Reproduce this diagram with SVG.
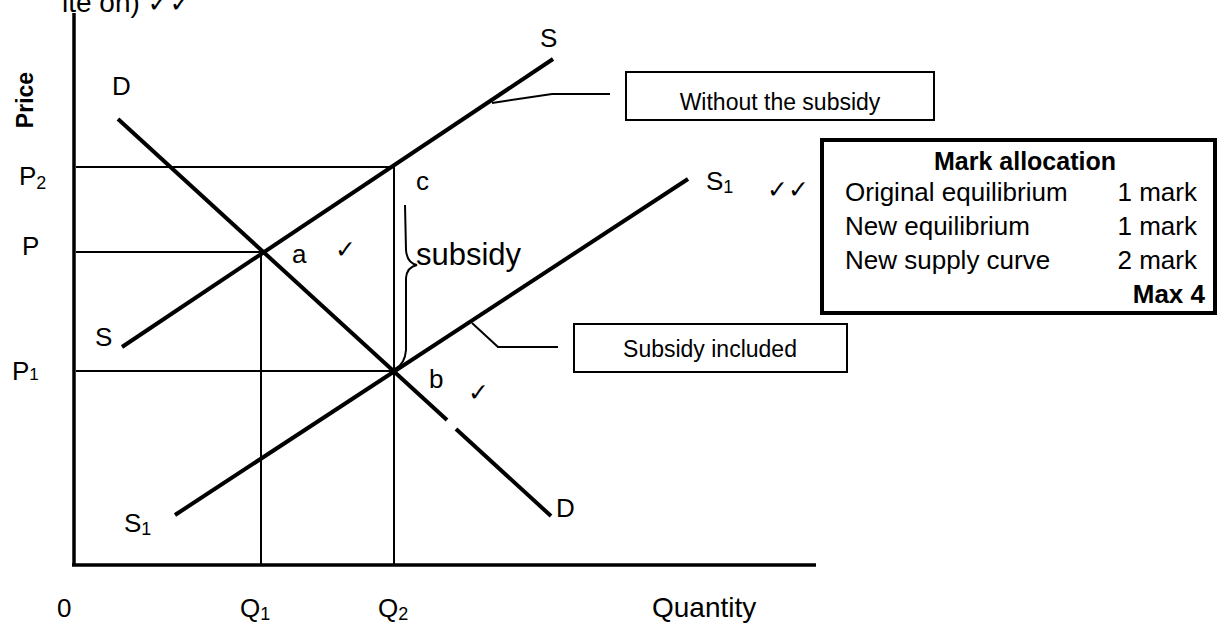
<svg xmlns="http://www.w3.org/2000/svg" width="1218" height="623" viewBox="0 0 1218 623">
<style>
text{font-family:"Liberation Sans",Arial,sans-serif;fill:#000}
.lbl{font-size:26px}
.sub{font-size:18px}
.tick{font-family:"DejaVu Sans",sans-serif;font-size:25px}
.curve{stroke:#000;stroke-width:4;fill:none;stroke-linecap:butt}
.axis{stroke:#000;stroke-width:3.5;fill:none}
.thin{stroke:#000;stroke-width:2;fill:none}
.box{stroke:#000;stroke-width:2;fill:#fff}
</style>
<rect width="1218" height="623" fill="#fff"/>
<text x="62" y="12" style="font-size:28px">ite on) <tspan class="tick" style="font-size:26px">✓✓</tspan></text>
<g id="axes">
<line class="axis" x1="74" y1="13" x2="74" y2="566"/>
<line class="axis" x1="72" y1="565" x2="816" y2="565"/>
<text transform="translate(33,100) rotate(-90)" text-anchor="middle" style="font-size:23px;font-weight:bold">Price</text>
</g>
<g id="guides">
<line class="thin" x1="76" y1="167" x2="394" y2="167"/>
<line class="thin" x1="76" y1="252" x2="262" y2="252"/>
<line class="thin" x1="76" y1="371" x2="394" y2="371"/>
<line class="thin" x1="261" y1="252" x2="261" y2="565"/>
<line class="thin" x1="394" y1="167" x2="394" y2="565"/>
</g>
<g id="curve-D">
<line class="curve" x1="118" y1="119" x2="447" y2="420"/>
<line class="curve" x1="456" y1="429" x2="551" y2="516"/>
<text class="lbl" x="112" y="95">D</text>
<text class="lbl" x="556" y="517">D</text>
</g>
<g id="curve-S">
<line class="curve" x1="122" y1="347" x2="553" y2="59"/>
<text class="lbl" x="540" y="47">S</text>
<text class="lbl" x="95" y="346">S</text>
</g>
<g id="curve-S1">
<line class="curve" x1="175" y1="515" x2="688" y2="179"/>
<text class="lbl" x="706" y="190">S<tspan class="sub" dy="3">1</tspan></text>
<text class="lbl" x="124" y="532">S<tspan class="sub" dy="3">1</tspan></text>
<text class="tick" x="767" y="198">✓✓</text>
</g>
<g id="price-labels">
<text class="lbl" x="19" y="185">P<tspan class="sub" dy="4">2</tspan></text>
<text class="lbl" x="22" y="255">P</text>
<text class="lbl" x="12" y="380">P<tspan style="font-size:17px">1</tspan></text>
</g>
<g id="qty-labels">
<text class="lbl" x="57" y="617">0</text>
<text class="lbl" x="240" y="617">Q<tspan class="sub" dy="3">1</tspan></text>
<text class="lbl" x="378" y="617">Q<tspan class="sub" dy="3">2</tspan></text>
<text x="652" y="617" style="font-size:28px">Quantity</text>
</g>
<g id="points">
<text class="lbl" x="292" y="263">a</text>
<text class="tick" x="335" y="258">✓</text>
<text class="lbl" x="429" y="388">b</text>
<text class="tick" x="468" y="401">✓</text>
<text class="lbl" x="416" y="190">c</text>
</g>
<g id="subsidy">
<path class="thin" d="M405 205 L406 250 Q407 263 417 265 Q407 267 406 278 L406 350 Q405 364 395 369"/>
<text x="416" y="265" style="font-size:31px">subsidy</text>
</g>
<g id="connectors">
<polyline class="thin" points="492,103 552,94 610,94"/>
<polyline class="thin" points="472,323 498,347 558,347"/>
</g>
<g id="box-without">
<rect class="box" x="626" y="72" width="308" height="48"/>
<text x="780" y="110" text-anchor="middle" style="font-size:23px">Without the subsidy</text>
</g>
<g id="box-included">
<rect class="box" x="574" y="324" width="273" height="48"/>
<text x="710" y="357" text-anchor="middle" style="font-size:23px">Subsidy included</text>
</g>
<g id="mark-box">
<rect x="822" y="140" width="393" height="173" fill="#fff" stroke="#000" stroke-width="4"/>
<text x="1025" y="170" text-anchor="middle" style="font-size:25px;font-weight:bold">Mark allocation</text>
<text x="845" y="201" style="font-size:26px">Original equilibrium</text>
<text x="1197" y="201" text-anchor="end" style="font-size:26px">1 mark</text>
<text x="845" y="235" style="font-size:26px">New equilibrium</text>
<text x="1197" y="235" text-anchor="end" style="font-size:26px">1 mark</text>
<text x="845" y="269" style="font-size:26px">New supply curve</text>
<text x="1197" y="269" text-anchor="end" style="font-size:26px">2 mark</text>
<text x="1205" y="303" text-anchor="end" style="font-size:26px;font-weight:bold">Max 4</text>
</g>
</svg>
